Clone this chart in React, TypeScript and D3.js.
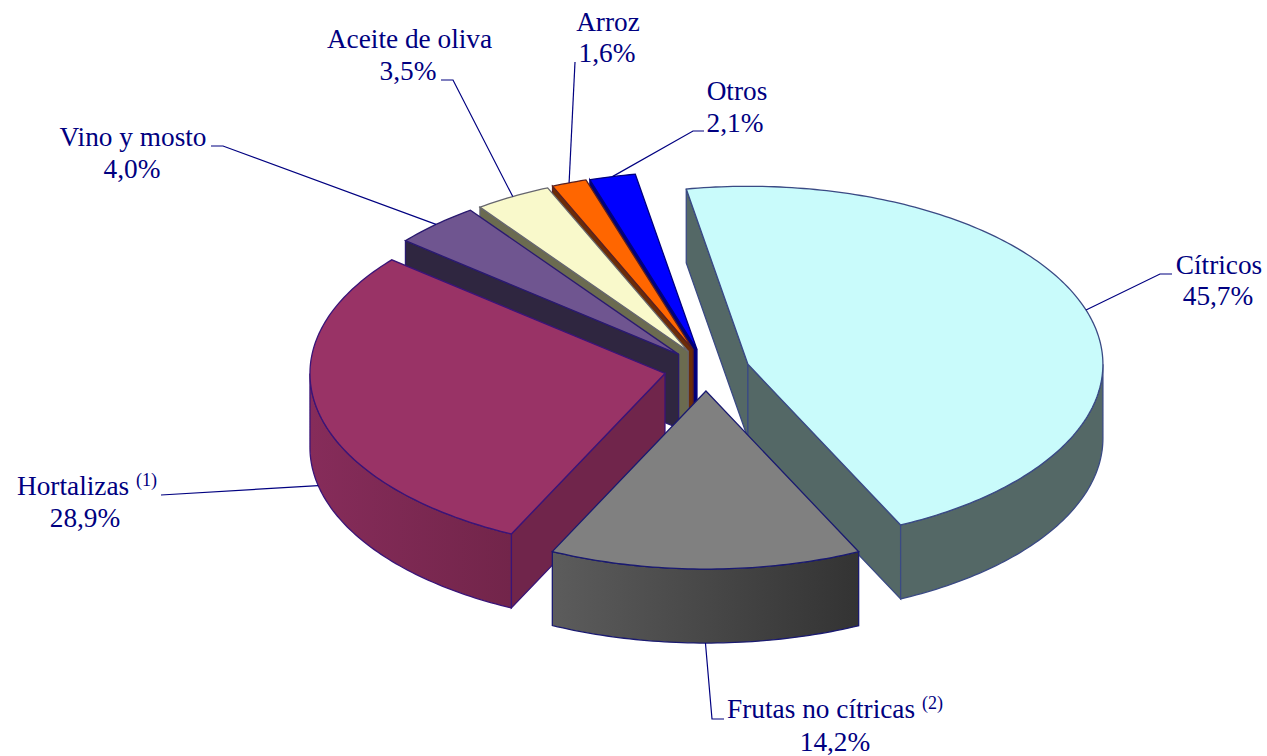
// exploded 3D pie, Spanish exports by crop
import React from 'react';
import * as d3 from 'd3';

// data
const categories = ['Cítricos', 'Frutas no cítricas', 'Hortalizas', 'Vino y mosto', 'Aceite de oliva', 'Arroz', 'Otros'];
const shares = [45.7, 14.2, 28.9, 4.0, 3.5, 1.6, 2.1];
const shareLabels = ['45,7%', '14,2%', '28,9%', '4,0%', '3,5%', '1,6%', '2,1%'];
const notes = ['', '(2)', '(1)', '', '', '', ''];

// styles, same order as the categories
const topColors = ['#c9fbfb', '#808080', '#993366', '#6f5590', '#f9f9cb', '#ff6600', '#0000ff'];
const wallColors = ['#546866', '#555555', '#70254b', '#2f2640', '#6b6b50', '#6b2c08', '#00007a'];
const sideFrom = ['#546866', '#5c5c5c', '#862c5a', '#2f2640', '#6b6b50', '#6b2c08', '#00007a'];
const sideTo = ['#546866', '#333333', '#72254a', '#2f2640', '#6b6b50', '#6b2c08', '#00007a'];
const edgeColors = ['#3a4a84', '#1a1a70', '#3a1478', '#2a1a70', '#66666e', '#5a2020', '#000080'];
const explode = [44, 40, 42, 40, 36, 37, 38];
const lift = [2, 2, 0, 0, -2, -2, -1];

// label placement: [x, first baseline, second baseline, second x]
const labelPos = [
  [1219, 274, 305, 1218],
  [835, 718, 751, 835],
  [87, 495, 527, 85],
  [133, 146, 178, 132],
  [409.5, 48, 80, 408],
  [608, 31, 62, 607],
  [737, 100, 132, 735],
];
// leader elbows after the slice: list of points
const leaderPts: [number, number][][] = [
  [[1160, 274], [1172, 274]],
  [[712, 719], [724, 719]],
  [[161, 495]],
  [[223, 146], [211, 146]],
  [[453, 80], [441, 80]],
  [[575, 62]],
  [[693, 131], [704, 131]],
];

const width = 1267;
const height = 756;
const cx = 706;
const cy = 369;
const rx = 355;
const ry = 178;
const depth = 74;
const navy = '#000080';

const pie = d3.pie<number>().sort(null).startAngle((-10 * Math.PI) / 180).endAngle((350 * Math.PI) / 180);
const line = d3.line();

// point on the rim of a slice, angle is clockwise from north
const rim = (c: number[], a: number, dy = 0): [number, number] => [c[0] + rx * Math.sin(a), c[1] - ry * Math.cos(a) + dy];

const rimPoints = (c: number[], a0: number, a1: number, dy = 0) => {
  const n = Math.max(2, Math.ceil((a1 - a0) * 60));
  return d3.range(n + 1).map((k) => rim(c, a0 + ((a1 - a0) * k) / n, dy));
};

export default function App() {
  const slices = pie(shares).map((s, i) => {
    const mid = (s.startAngle + s.endAngle) / 2;
    const d = explode[i];
    const apex = [cx + d * Math.sin(mid), cy + lift[i] - (d * Math.cos(mid) * ry) / rx];
    return { i, a0: s.startAngle, a1: s.endAngle, mid, apex };
  });

  // painter's order: back slices first, front slice last
  const drawOrder = [6, 5, 4, 3, 2, 0, 1];

  return (
    <svg width={width} height={height} style={{ position: 'absolute', left: 0, top: 0 }} fontFamily='"Liberation Serif", serif'>
      <defs>
        {slices.map((s) => (
          <linearGradient key={s.i} id={'side' + s.i}>
            <stop offset="0" stopColor={sideFrom[s.i]} />
            <stop offset="1" stopColor={sideTo[s.i]} />
          </linearGradient>
        ))}
      </defs>

      {drawOrder.map((i) => {
        const s = slices[i];
        const { a0, a1, apex } = s;
        const edge = edgeColors[i];
        const paths: React.ReactNode[] = [];

        // flat walls, only the ones facing the viewer
        if (Math.sin(a0) < 0) {
          const p = rim(apex, a0);
          paths.push(
            <path key="w0" d={line([[apex[0], apex[1]], p, [p[0], p[1] + depth], [apex[0], apex[1] + depth]]) + 'Z'} fill={wallColors[i]} stroke={edge} strokeWidth={1.3} />
          );
        }
        if (Math.sin(a1) > 0) {
          const p = rim(apex, a1);
          paths.push(
            <path key="w1" d={line([[apex[0], apex[1]], p, [p[0], p[1] + depth], [apex[0], apex[1] + depth]]) + 'Z'} fill={wallColors[i]} stroke={edge} strokeWidth={1.3} />
          );
        }

        // curved wall, the part of the rim that is in front
        const f0 = Math.max(a0, Math.PI / 2);
        const f1 = Math.min(a1, (3 * Math.PI) / 2);
        if (f1 > f0) {
          const outer = [...rimPoints(apex, f0, f1), ...rimPoints(apex, f0, f1, depth).reverse()];
          paths.push(<path key="side" d={line(outer) + 'Z'} fill={`url(#side${i})`} stroke={edge} strokeWidth={1.3} />);
        }

        const top = [[apex[0], apex[1]] as [number, number], ...rimPoints(apex, a0, a1)];
        paths.push(<path key="top" d={line(top) + 'Z'} fill={topColors[i]} stroke={edge} strokeWidth={1.3} />);
        return <g key={i}>{paths}</g>;
      })}

      {/* leaders start at the middle of each slice */}
      {slices.map((s) => {
        const front = Math.cos(s.mid) < 0;
        const start = rim(s.apex, s.mid, front ? depth : 0);
        return <path key={s.i} d={line([start, ...leaderPts[s.i]]) ?? ''} fill="none" stroke={navy} strokeWidth={1.2} />;
      })}

      {categories.map((name, i) => {
        const pos = labelPos[i];
        return (
          <g key={name} fill={navy} fontSize={27.3} textAnchor="middle">
            <text x={pos[0]} y={pos[1]}>
              {notes[i] ? name + ' ' : name}
              {notes[i] && (
                <tspan fontSize={18} dy={-9}>
                  {notes[i]}
                </tspan>
              )}
            </text>
            <text x={pos[3]} y={pos[2]}>
              {shareLabels[i]}
            </text>
          </g>
        );
      })}
    </svg>
  );
}
